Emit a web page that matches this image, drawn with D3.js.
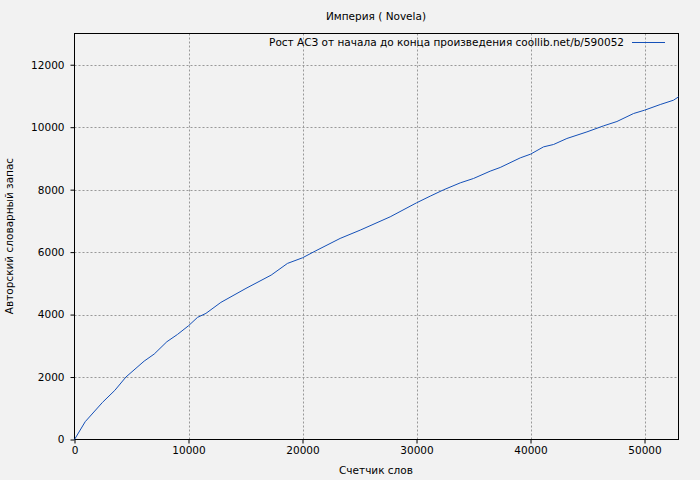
<!DOCTYPE html>
<html><head><meta charset="utf-8">
<script src="https://cdn.jsdelivr.net/npm/d3@7"></script>
<style>body{margin:0;background:#f2f2f2;}svg{display:block;}</style>
</head><body>
<svg id="c" width="700" height="480"></svg>
<script>
const titleText = "Империя ( Novela)";
const legendText = "Рост АСЗ от начала до конца произведения coollib.net/b/590052";
const xLabel = "Счетчик слов";
const yLabel = "Авторский словарный запас";
const xTicks = [0, 10000, 20000, 30000, 40000, 50000];
const yTicks = [0, 2000, 4000, 6000, 8000, 10000, 12000];
const words = [0, 940, 2460, 3540, 4510, 6110, 6990, 8100, 9040, 10000, 10790, 11530, 12840, 15040, 17250, 18680, 20000, 21110, 23300, 25060, 27690, 30000, 31200, 32370, 33840, 35000, 36460, 37340, 39100, 40000, 41140, 42020, 43190, 44950, 46400, 47580, 49040, 50000, 51380, 52540, 52980];
const vocab = [0, 570, 1190, 1574, 2000, 2510, 2736, 3130, 3366, 3642, 3910, 4038, 4390, 4838, 5264, 5638, 5818, 6032, 6438, 6704, 7130, 7578, 7792, 7994, 8218, 8358, 8592, 8710, 9018, 9136, 9370, 9446, 9638, 9850, 10042, 10182, 10438, 10544, 10726, 10864, 10970];

const svg = d3.select("#c");
const L = 74.5, R = 678.5, T = 33.5, B = 439.5;
const x = d3.scaleLinear().domain([0, 52980]).range([L, R]);
const y = d3.scaleLinear().domain([0, 13000]).range([B, T]);
const font = "DejaVu Sans, sans-serif";
const fs = 10.5;

svg.append("rect").attr("width", 700).attr("height", 480).attr("fill", "#f2f2f2");

// grid
const g = svg.append("g");
g.selectAll(".gx").data(xTicks.filter(d => d > 0)).join("line")
  .attr("x1", d => Math.round(x(d)) + 0.5).attr("x2", d => Math.round(x(d)) + 0.5)
  .attr("y1", T).attr("y2", B)
  .attr("stroke", "#999").attr("stroke-width", 1).attr("stroke-dasharray", "2,2");
g.selectAll(".gy").data(yTicks.filter(d => d > 0)).join("line")
  .attr("y1", d => Math.round(y(d)) + 0.5).attr("y2", d => Math.round(y(d)) + 0.5)
  .attr("x1", L).attr("x2", R)
  .attr("stroke", "#999").attr("stroke-width", 1).attr("stroke-dasharray", "2,2");

// axes
const xAxis = d3.axisBottom(x).tickValues(xTicks).tickSize(4).tickPadding(3).tickFormat(d3.format("d"));
const yAxis = d3.axisLeft(y).tickValues(yTicks).tickSize(4).tickPadding(6).tickFormat(d3.format("d"));
const gx = svg.append("g").attr("transform", `translate(0,${B})`).call(xAxis);
const gy = svg.append("g").attr("transform", `translate(${L},0)`).call(yAxis);
[gx, gy].forEach(a => {
  a.select(".domain").remove();
  a.selectAll("line").attr("stroke", "#000");
  a.selectAll("text").attr("font-family", font).attr("font-size", fs).attr("fill", "#000");
});

// border
svg.append("rect").attr("x", L).attr("y", T).attr("width", R - L).attr("height", B - T)
  .attr("fill", "none").attr("stroke", "#000").attr("stroke-width", 1);

// data line
const line = d3.line().x((d, i) => x(words[i])).y(d => y(d));
svg.append("path").datum(vocab).attr("d", line)
  .attr("fill", "none").attr("stroke", "#1450b8").attr("stroke-width", 1);

// title
svg.append("text").attr("x", 376).attr("y", 20).attr("text-anchor", "middle")
  .attr("font-family", font).attr("font-size", fs).text(titleText);
// legend
svg.append("text").attr("x", 624).attr("y", 46).attr("text-anchor", "end")
  .attr("font-family", font).attr("font-size", fs).text(legendText);
svg.append("line").attr("x1", 632).attr("x2", 665).attr("y1", 42.5).attr("y2", 42.5)
  .attr("stroke", "#1450b8").attr("stroke-width", 1);
// axis labels
svg.append("text").attr("x", 376).attr("y", 474).attr("text-anchor", "middle")
  .attr("font-family", font).attr("font-size", fs).text(xLabel);
svg.append("text").attr("transform", "translate(13,236) rotate(-90)").attr("text-anchor", "middle")
  .attr("font-family", font).attr("font-size", fs).text(yLabel);
</script>
</body></html>
